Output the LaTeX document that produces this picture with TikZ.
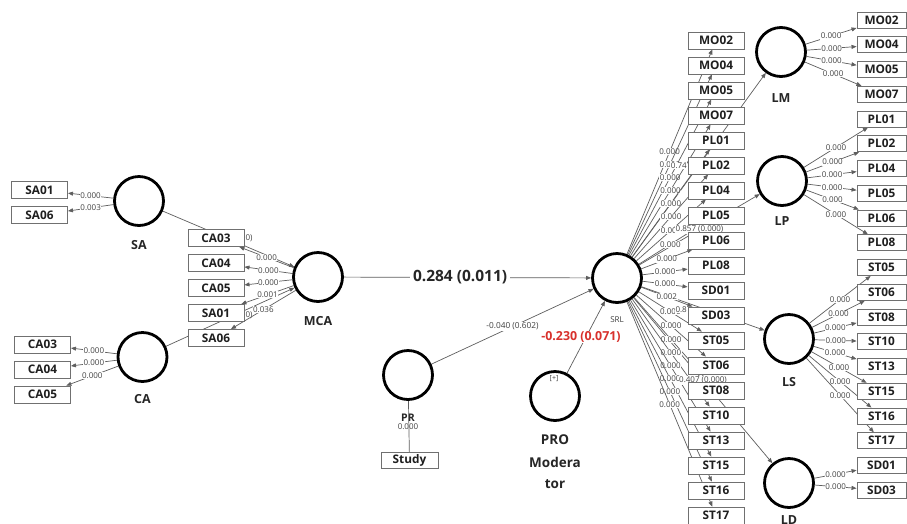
\documentclass[tikz,border=0pt]{standalone}
\usepackage{fontspec}
\setmainfont{Open Sans}
\usetikzlibrary{arrows.meta,calc}
\pgfdeclarelayer{fg}
\pgfsetlayers{main,fg}
\definecolor{ln}{HTML}{5E5E5E}
\definecolor{bx}{HTML}{707070}
\definecolor{lbc}{HTML}{404040}
\definecolor{redl}{HTML}{D8312C}
\tikzset{
 lv/.style={circle,draw=black,line width=2.8pt,minimum size=49pt,inner sep=0pt},
 ind/.style={rectangle,draw=bx,line width=0.9pt,fill=white,minimum width=56pt,minimum height=17pt,inner sep=0pt,text=black!88,font=\fontsize{11.8}{12}\selectfont\bfseries},
 indr/.style={ind,minimum width=49pt,minimum height=16pt},
 lvlab/.style={font=\fontsize{12.5}{13}\selectfont\bfseries,text=black!85},
 ld/.style={font=\fontsize{8}{9}\selectfont,text=lbc,fill=white,inner sep=0.5pt},
 frag/.style={font=\fontsize{8}{9}\selectfont,text=lbc,fill=white,inner sep=0.5pt},
 conn/.style={draw=ln,line width=0.7pt},
 arr/.style={conn,-{Triangle[length=5pt,width=4pt]}},
}
\begin{document}
\begin{tikzpicture}[x=1pt,y=-1pt]
\fill[white] (0,0) rectangle (907,523);
\useasboundingbox (0,0) rectangle (907,523);
\begin{pgfonlayer}{fg}
 \node[lv] (SA) at (139,201) {};
 \node[lv] (CA) at (142.5,357) {};
 \node[lv] (MCA) at (318,277) {};
 \node[lv] (SRL) at (617,278) {};
 \node[lv] (PR) at (408,375) {};
 \node[lv] (PRO) at (555,396) {};
 \node[lv] (LM) at (781,52) {};
 \node[lv] (LP) at (782,181) {};
 \node[lv] (LS) at (789,339) {};
 \node[lv] (LD) at (789,483) {};
 \node[font=\fontsize{7}{8}\selectfont,text=lbc] (plus) at (554,379) {[+]};
 \node[ind] (sa1) at (39.5,190) {SA01};
 \node[ind] (sa6) at (39.5,215) {SA06};
 \node[ind] (ca3) at (42.5,344.5) {CA03};
 \node[ind] (ca4) at (42.5,369.5) {CA04};
 \node[ind] (ca5) at (42.5,394.5) {CA05};
 \node[ind] (c3) at (216,238) {CA03};
 \node[ind] (c4) at (216,263) {CA04};
 \node[ind] (c5) at (216,288) {CA05};
 \node[ind] (s1) at (216,313) {SA01};
 \node[ind] (s6) at (216,338) {SA06};
 \node[ind,minimum width=57pt,minimum height=16pt] (Study) at (409.5,460.5) {Study};
 \foreach \t [count=\i] in {MO02,MO04,MO05,MO07,PL01,PL02,PL04,PL05,PL06,PL08,SD01,SD03,ST05,ST06,ST08,ST10,ST13,ST15,ST16,ST17}
   \node[ind] (m\i) at (716,{40.5+25*(\i-1)}) {\t};
 \foreach \t [count=\i] in {MO02,MO04,MO05,MO07,PL01,PL02,PL04,PL05,PL06,PL08,ST05,ST06,ST08,ST10,ST13,ST15,ST16,ST17,SD01,SD03}
   \node[indr] (r\i) at (881.5,{20+24.75*(\i-1)}) {\t};
\end{pgfonlayer}

% construct labels
\node[lvlab] (SAl) at (139,245) {SA};
\node[lvlab] (CAl) at (142.5,399) {CA};
\node[lvlab] (MCAl) at (318,321) {MCA};
\node[lvlab] (LMl) at (781,98) {LM};
\node[lvlab] (LPl) at (782,221) {LP};
\node[lvlab] (LSl) at (789,382) {LS};
\node[lvlab] (LDl) at (789,520) {LD};
\node[font=\fontsize{8}{9}\selectfont,text=lbc] (SRLl) at (617,320) {SRL};
\node[font=\fontsize{8}{9}\selectfont,text=lbc] (PRv) at (408,427) {0.000};
\node[font=\fontsize{10.5}{11}\selectfont\bfseries,text=black!85] (PRl) at (408,418) {PR};
\node[font=\fontsize{13.5}{15}\selectfont\bfseries,text=black!85] (PROa) at (555,440) {PRO};
\node[font=\fontsize{13.5}{15}\selectfont\bfseries,text=black!85] (PROb) at (555,462) {Modera};
\node[font=\fontsize{13.5}{15}\selectfont\bfseries,text=black!85] (PROc) at (555,484) {tor};

% second-order paths
\draw[arr] (SA) -- (MCA);
\draw[arr] (CA) -- (MCA);
\draw[arr] (SRL) -- (LM);
\draw[arr] (SRL) -- (LP);
\draw[arr] (SRL) -- (LS);
\draw[arr] (SRL) -- (LD);
\node[frag,anchor=west] (fSA) at (244.8,238) {0)};
\node[frag,anchor=west] (fCA) at (244.8,315.5) {0)};

% measurement: SA, CA, MCA
\draw[arr] (SA) -- node[ld]{0.000} (sa1);
\draw[arr] (SA) -- node[ld]{0.003} (sa6);
\draw[arr] (CA) -- node[ld]{0.000} (ca3);
\draw[arr] (CA) -- node[ld]{0.000} (ca4);
\draw[arr] (CA) -- node[ld]{0.000} (ca5);
\draw[arr] (MCA) -- node[ld]{0.000} (c3);
\draw[arr] (MCA) -- node[ld]{0.000} (c4);
\draw[arr] (MCA) -- node[ld]{0.000} (c5);
\draw[arr] (MCA) -- node[ld]{0.001} (s1);
\draw[arr] (MCA) -- node[ld]{0.036} (s6);

% SRL fan
\foreach \i in {1,...,20}{
  \ifnum\i=12 \def\v{0.002}\else\def\v{0.000}\fi
  \draw[arr] (SRL) -- node[ld]{\v} (m\i);
}
\node[frag,anchor=east] (fLM) at (687.5,165.5) {0.74};
\path (SRL) -- node[ld]{0.857 (0.000)} (LP);
\node[frag,anchor=east] (fLS) at (687.5,309.5) {0.8};
\path (SRL) -- node[ld]{0.407 (0.000)} (LD);

% first-order measurement on the right
\foreach \i in {1,...,4} \draw[arr] (LM) -- node[ld]{0.000} (r\i);
\foreach \i in {5,...,10} \draw[arr] (LP) -- node[ld]{0.000} (r\i);
\foreach \i in {11,...,18} \draw[arr] (LS) -- node[ld]{0.000} (r\i);
\foreach \i in {19,20} \draw[arr] (LD) -- node[ld]{0.000} (r\i);

% structural paths
\draw[arr] (MCA) -- node[pos=0.47,fill=white,inner sep=3pt,text=black!85,font=\fontsize{15.5}{17}\selectfont\bfseries]{0.284 (0.011)} (SRL);
\draw[arr] (PR) -- node[ld,font=\fontsize{8.3}{9}\selectfont]{-0.040 (0.602)} (SRL);
\draw[arr] (PRO) -- node[fill=white,inner sep=1pt,xshift=-5pt,text=redl,font=\fontsize{12.4}{14}\selectfont\bfseries]{-0.230 (0.071)} (SRL);
\draw[conn] (PR) -- (Study);
\end{tikzpicture}
\end{document}
